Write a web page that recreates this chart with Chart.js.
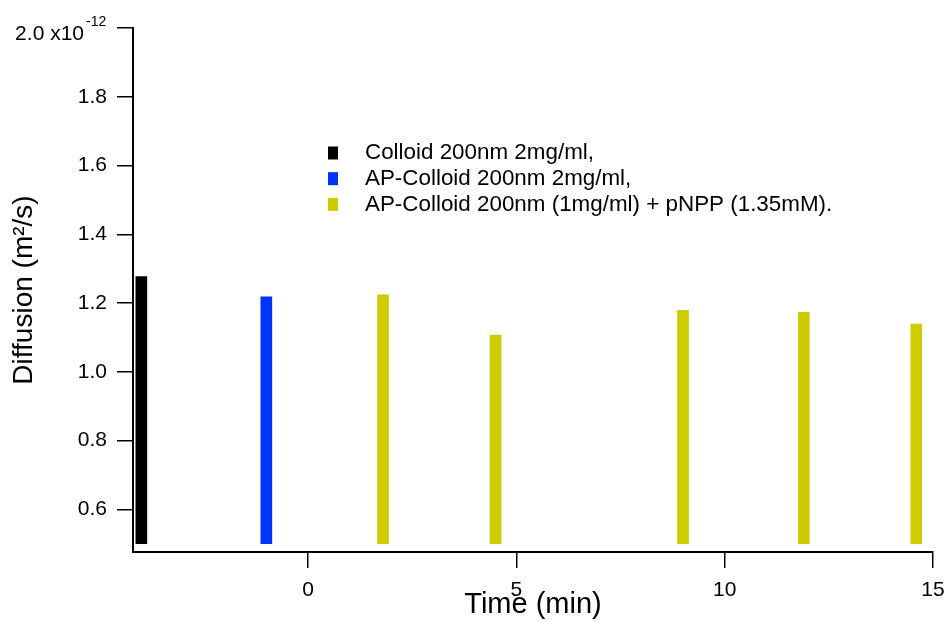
<!DOCTYPE html>
<html>
<head>
<meta charset="utf-8">
<title>Diffusion vs time</title>
<script src="https://cdn.jsdelivr.net/npm/chart.js@4/dist/chart.umd.min.js"></script>
<style>
  html, body { margin: 0; padding: 0; background: #fff; }
  canvas { display: block; }
</style>
</head>
<body>
<canvas id="chart" width="949" height="622"></canvas>
<script>
// ---------------- DATA ----------------
const seriesLabels = [
  "Colloid 200nm 2mg/ml,",
  "AP-Colloid 200nm 2mg/ml,",
  "AP-Colloid 200nm (1mg/ml) + pNPP (1.35mM)."
];
const seriesColors = ["#000000", "#0033ff", "#cccc00"];

const colloidTime = [-4];
const colloidDiff = [1.277];

const apTime = [-1];
const apDiff = [1.218];

const pnppTime = [1.8, 4.5, 9, 11.9, 14.6];
const pnppDiff = [1.224, 1.107, 1.179, 1.173, 1.139];

const barBase = 0.5;
const xTickStep = 5;
const yTickStep = 0.2;
const yExponent = "-12";

const FONT = "'Liberation Sans', Arial, Helvetica, sans-serif";

function toBars(times, values) {
  return times.map((t, i) => ({ x: t, y: [barBase, values[i]] }));
}

// ---------------- PLUGINS ----------------
// legend drawn inside the plot, like the original
const insideLegend = {
  id: "insideLegend",
  afterDraw(chart) {
    const ctx = chart.ctx;
    ctx.save();
    ctx.font = "22.4px " + FONT;
    ctx.textBaseline = "middle";
    ctx.textAlign = "left";
    chart.data.datasets.forEach((ds, i) => {
      const y = 153 + i * 25.7;
      ctx.fillStyle = ds.backgroundColor;
      ctx.fillRect(328, y - 6.5, 10, 13);
      ctx.fillStyle = "#000";
      ctx.fillText(ds.label, 365, y);
    });
    ctx.restore();
  }
};

// top tick label with the exponent
const topLabel = {
  id: "topLabel",
  afterDraw(chart) {
    const y = chart.scales.y;
    const py = y.getPixelForValue(y.max);
    const ctx = chart.ctx;
    ctx.save();
    ctx.fillStyle = "#000";
    ctx.textBaseline = "middle";
    ctx.font = "21px " + FONT;
    ctx.textAlign = "right";
    ctx.fillText(y.max.toFixed(1) + " x10", 84, py + 6);
    ctx.font = "14px " + FONT;
    ctx.textAlign = "left";
    ctx.fillText(yExponent, 86, py - 6);
    ctx.restore();
  }
};

// ---------------- CHART ----------------
new Chart(document.getElementById("chart"), {
  type: "bar",
  data: {
    datasets: [
      { label: seriesLabels[0], data: toBars(colloidTime, colloidDiff), backgroundColor: seriesColors[0] },
      { label: seriesLabels[1], data: toBars(apTime, apDiff), backgroundColor: seriesColors[1] },
      { label: seriesLabels[2], data: toBars(pnppTime, pnppDiff), backgroundColor: seriesColors[2] }
    ]
  },
  options: {
    responsive: false,
    animation: false,
    devicePixelRatio: 1,
    layout: { padding: { top: 28, right: 16, left: 0, bottom: 0 } },
    datasets: {
      bar: { barThickness: 11, grouped: false, borderWidth: 0 }
    },
    plugins: {
      legend: { display: false },
      tooltip: { enabled: false }
    },
    scales: {
      x: {
        type: "linear",
        min: -4.2,
        max: 15,
        offset: false,
        grid: { offset: false, drawOnChartArea: false, drawTicks: true, tickLength: 16, color: "#000", lineWidth: 1.5 },
        border: { color: "#000", width: 2 },
        ticks: {
          stepSize: xTickStep,
          includeBounds: false,
          padding: 10,
          color: "#000",
          font: { family: FONT, size: 21 },
          maxRotation: 0
        },
        title: {
          display: true,
          text: "Time (min)",
          color: "#000",
          font: { family: FONT, size: 29 },
          padding: { top: 0, bottom: 0 }
        },
        afterFit(scale) {
          scale.height = 70;
          scale.paddingLeft = 0;
          scale.paddingRight = 0;
        }
      },
      y: {
        type: "linear",
        min: 0.476,
        max: 2.0,
        grid: { drawOnChartArea: false, drawTicks: true, tickLength: 16, color: "#000", lineWidth: 1.5 },
        border: { color: "#000", width: 2 },
        ticks: {
          stepSize: yTickStep,
          includeBounds: false,
          padding: 10,
          color: "#000",
          font: { family: FONT, size: 21 },
          callback: (v) => (Math.abs(v - 2.0) < 1e-9 ? "" : v.toFixed(1))
        },
        title: {
          display: true,
          text: "Diffusion (m²/s)",
          color: "#000",
          font: { family: FONT, size: 28 },
          padding: { top: 7, bottom: 0 }
        },
        afterFit(scale) { scale.width = 133; }
      }
    }
  },
  plugins: [insideLegend, topLabel]
});
</script>
</body>
</html>
